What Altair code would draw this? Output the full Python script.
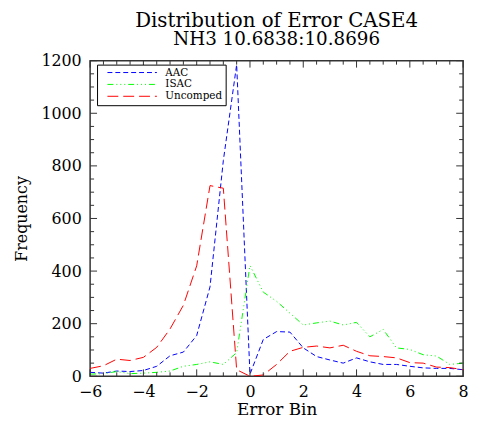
import altair as alt
import pandas as pd

# ---- data ----
bins = [-6.0, -5.5, -5.0, -4.5, -4.0, -3.5, -3.0, -2.5, -2.0, -1.5, -1.0, -0.5, 0.0,
        0.5, 1.0, 1.5, 2.0, 2.5, 3.0, 3.5, 4.0, 4.5, 5.0, 5.5, 6.0, 6.5, 7.0, 7.5, 8.0]
aac = [15, 12, 20, 18, 22, 38, 78, 92, 155, 340, 820, 1185, 8,
       140, 170, 168, 108, 75, 62, 50, 70, 55, 45, 45, 38, 32, 30, 30, 25]
isac = [8, 10, 18, 10, 12, 15, 20, 38, 45, 55, 45, 90, 421,
        320, 285, 240, 195, 203, 210, 195, 205, 150, 178, 108, 102, 82, 77, 45, 50]
uncomped = [30, 40, 65, 60, 72, 110, 180, 270, 420, 725, 715, 25, 0,
            5, 45, 95, 110, 115, 108, 118, 95, 78, 75, 70, 52, 50, 35, 33, 25]

series_names = ["AAC", "ISAC", "Uncomped"]
series_colors = ["#0000ff", "#00ff00", "#ff0000"]
series_dashes = [[5, 3], [6, 3, 1, 3, 1, 3, 1, 3], [11, 5]]

title_line1 = "Distribution of Error CASE4"
title_line2 = "NH3 10.6838:10.8696"
x_title = "Error Bin"
y_title = "Frequency"

x_major = [-6, -4, -2, 0, 2, 4, 6, 8]
x_minor = [-5.5, -5, -4.5, -3.5, -3, -2.5, -1.5, -1, -0.5, 0.5, 1, 1.5,
           2.5, 3, 3.5, 4.5, 5, 5.5, 6.5, 7, 7.5]
y_major = [0, 200, 400, 600, 800, 1000, 1200]
y_minor = [50, 100, 150, 250, 300, 350, 450, 500, 550, 650, 700, 750,
           850, 900, 950, 1050, 1100, 1150]

# ---- build table ----
rows = []
for name, vals in zip(series_names, [aac, isac, uncomped]):
    for b, v in zip(bins, vals):
        rows.append({"bin": b, "count": v, "series": name})
df = pd.DataFrame(rows)

W, H = 377, 319
FRAME = "#333333"
FONT = "DejaVu Serif"

xs = alt.Scale(domain=[-6, 8], nice=False, zero=False, padding=0)
ys = alt.Scale(domain=[0, 1200], nice=False, padding=0)

x_axis = alt.Axis(values=x_major, title=x_title, ticks=False, domain=False,
                  grid=False, labelPadding=7, titlePadding=3, format="d",
                  labelFlush=False, labelOverlap=False,
                  labelFontSize=16, titleFontSize=17)
y_axis = alt.Axis(values=y_major, title=y_title, ticks=False, domain=False,
                  grid=False, labelPadding=9, titlePadding=12, format="d",
                  labelFlush=False, labelOverlap=False,
                  labelFontSize=16, titleFontSize=16)

lines = alt.Chart(df).mark_line(strokeWidth=1, clip=True).encode(
    x=alt.X("bin:Q", scale=xs, axis=x_axis),
    y=alt.Y("count:Q", scale=ys, axis=y_axis),
    color=alt.Color("series:N",
                    scale=alt.Scale(domain=series_names, range=series_colors),
                    legend=alt.Legend(title=None)),
    strokeDash=alt.StrokeDash("series:N",
                              scale=alt.Scale(domain=series_names, range=series_dashes),
                              legend=alt.Legend(title=None)),
)


def xticks(vals, length):
    d = pd.DataFrame({"t": vals})
    base = alt.Chart(d).mark_rule(color=FRAME, strokeWidth=1)
    bottom = base.encode(x=alt.X("t:Q", scale=xs, axis=x_axis),
                         y=alt.value(H), y2=alt.value(H - length))
    top = base.encode(x=alt.X("t:Q", scale=xs, axis=x_axis),
                      y=alt.value(0), y2=alt.value(length))
    return [bottom, top]


def yticks(vals, length):
    d = pd.DataFrame({"t": vals})
    base = alt.Chart(d).mark_rule(color=FRAME, strokeWidth=1)
    left = base.encode(y=alt.Y("t:Q", scale=ys, axis=y_axis),
                       x=alt.value(0), x2=alt.value(length))
    right = base.encode(y=alt.Y("t:Q", scale=ys, axis=y_axis),
                        x=alt.value(W), x2=alt.value(W - length))
    return [left, right]


tick_layers = xticks(x_major, 7) + xticks(x_minor, 4) + yticks(y_major, 7) + yticks(y_minor, 4)

chart = alt.layer(lines, *tick_layers).properties(
    width=W, height=H,
    title=alt.TitleParams(text=title_line1, subtitle=title_line2,
                          fontSize=20, font=FONT, fontWeight="normal",
                          subtitleFontSize=18.5, subtitleFont=FONT, subtitleColor="black",
                          subtitlePadding=0, anchor="middle", frame="group", offset=4,
                          color="black"),
    padding={"left": 5, "top": 0, "right": 5, "bottom": 5},
).configure_view(
    stroke=FRAME, strokeWidth=1.5
).configure_axis(
    labelFont=FONT, titleFont=FONT, labelColor="black", titleColor="black",
    titleFontWeight="normal"
).configure_legend(
    orient="none", legendX=7, legendY=4, fillColor="white", strokeColor="black",
    strokeWidth=1, padding=3, cornerRadius=0, symbolType="stroke", symbolSize=2500,
    symbolStrokeWidth=1, symbolOffset=7, labelFont=FONT, labelFontSize=10.5,
    labelColor="black", labelOffset=8, rowPadding=1, clipHeight=10
)

chart.save("out.html", embed_options={"renderer": "svg", "actions": False})
